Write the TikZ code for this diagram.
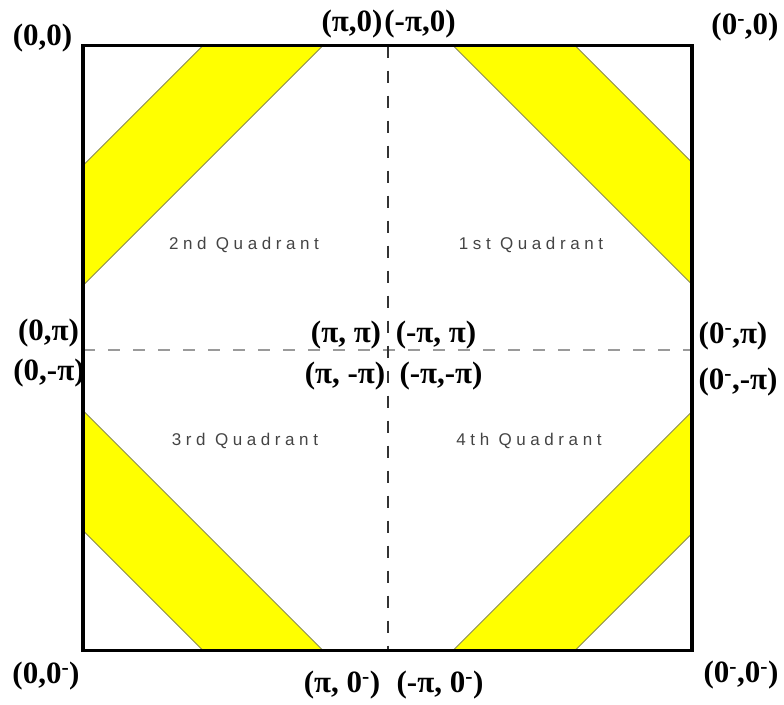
\documentclass[tikz,border=0pt]{standalone}
\usepackage{fontspec}
\setmainfont{Liberation Serif}
\newfontfamily\quadfont[LetterSpace=27]{Liberation Sans}
\definecolor{bandyellow}{HTML}{FFFF00}
\definecolor{bandedge}{HTML}{8A8A50}
\definecolor{quadgray}{HTML}{444444}
\definecolor{hdash}{HTML}{9A9A9A}
\definecolor{vdash}{HTML}{333333}
\begin{document}
\begin{tikzpicture}[x=1pt,y=-1pt,
  lbl/.style={font=\fontsize{31}{33}\selectfont\bfseries, inner sep=0pt, anchor=center},
  quad/.style={font=\quadfont\fontsize{17}{19}\selectfont, text=quadgray, inner sep=0pt, anchor=center},
  band/.style={fill=bandyellow, draw=bandedge, line width=0.8pt, line join=miter},
  border/.style={draw=black, line width=3.6pt, line join=miter},
  hline/.style={draw=hdash, line width=2.8pt, dash pattern=on 12pt off 13pt},
  vline/.style={draw=vdash, line width=1.4pt, dash pattern=on 12pt off 13pt}]
\useasboundingbox (0,0) rectangle (784,704);
% square corners
\coordinate (TL) at (83,45.5);
\coordinate (TR) at (692,45.5);
\coordinate (BR) at (692,650.5);
\coordinate (BL) at (83,650.5);
% axis ends
\coordinate (VT) at (388,45.5);
\coordinate (VB) at (388,650.5);
\coordinate (HL) at (83,350);
\coordinate (HR) at (692,350);
% yellow bands
\path[band] (203,45.5) -- (323,45.5) -- (83,285.5) -- (83,165.5) -- cycle;
\path[band] (453,45.5) -- (575,45.5) -- (692,162.5) -- (692,284.5) -- cycle;
\path[band] (83,410.5) -- (83,530.5) -- (203,650.5) -- (323,650.5) -- cycle;
\path[band] (692,411.5) -- (692,533.5) -- (575,650.5) -- (453,650.5) -- cycle;
% dashed axes
\draw[hline] (HL) -- (HR);
\draw[vline] (VT) -- (VB);
% border
\draw[border] (TL) -- (TR) -- (BR) -- (BL) -- cycle;
% quadrant texts
\node[quad] (q2) at (244,245) {2nd Quadrant};
\node[quad] (q1) at (531,245) {1st Quadrant};
\node[quad] (q3) at (245,441) {3rd Quadrant};
\node[quad] (q4) at (529,441) {4th Quadrant};
% labels
\node[lbl] (l1) at (42.5,38.5) {(0,0)};
\node[lbl] (l2) at (352,24) {(π,0)};
\node[lbl] (l3) at (420,24) {(-π,0)};
\node[lbl] (l4) at (745,27.5) {(0\textsuperscript{-},0)};
\node[lbl] (l5) at (48.5,333) {(0,π)};
\node[lbl] (l6) at (49,373) {(0,-π)};
\node[lbl] (l7) at (346,335) {(π, π)};
\node[lbl] (l8) at (436,335) {(-π, π)};
\node[lbl] (l9) at (345,376) {(π, -π)};
\node[lbl] (l10) at (441,376) {(-π,-π)};
\node[lbl] (l11) at (733,336) {(0\textsuperscript{-},π)};
\node[lbl] (l12) at (738,382) {(0\textsuperscript{-},-π)};
\node[lbl] (l13) at (46,676) {(0,0\textsuperscript{-})};
\node[lbl] (l14) at (342,685) {(π, 0\textsuperscript{-})};
\node[lbl] (l15) at (440,685) {(-π, 0\textsuperscript{-})};
\node[lbl] (l16) at (741,675) {(0\textsuperscript{-},0\textsuperscript{-})};
\end{tikzpicture}
\end{document}
